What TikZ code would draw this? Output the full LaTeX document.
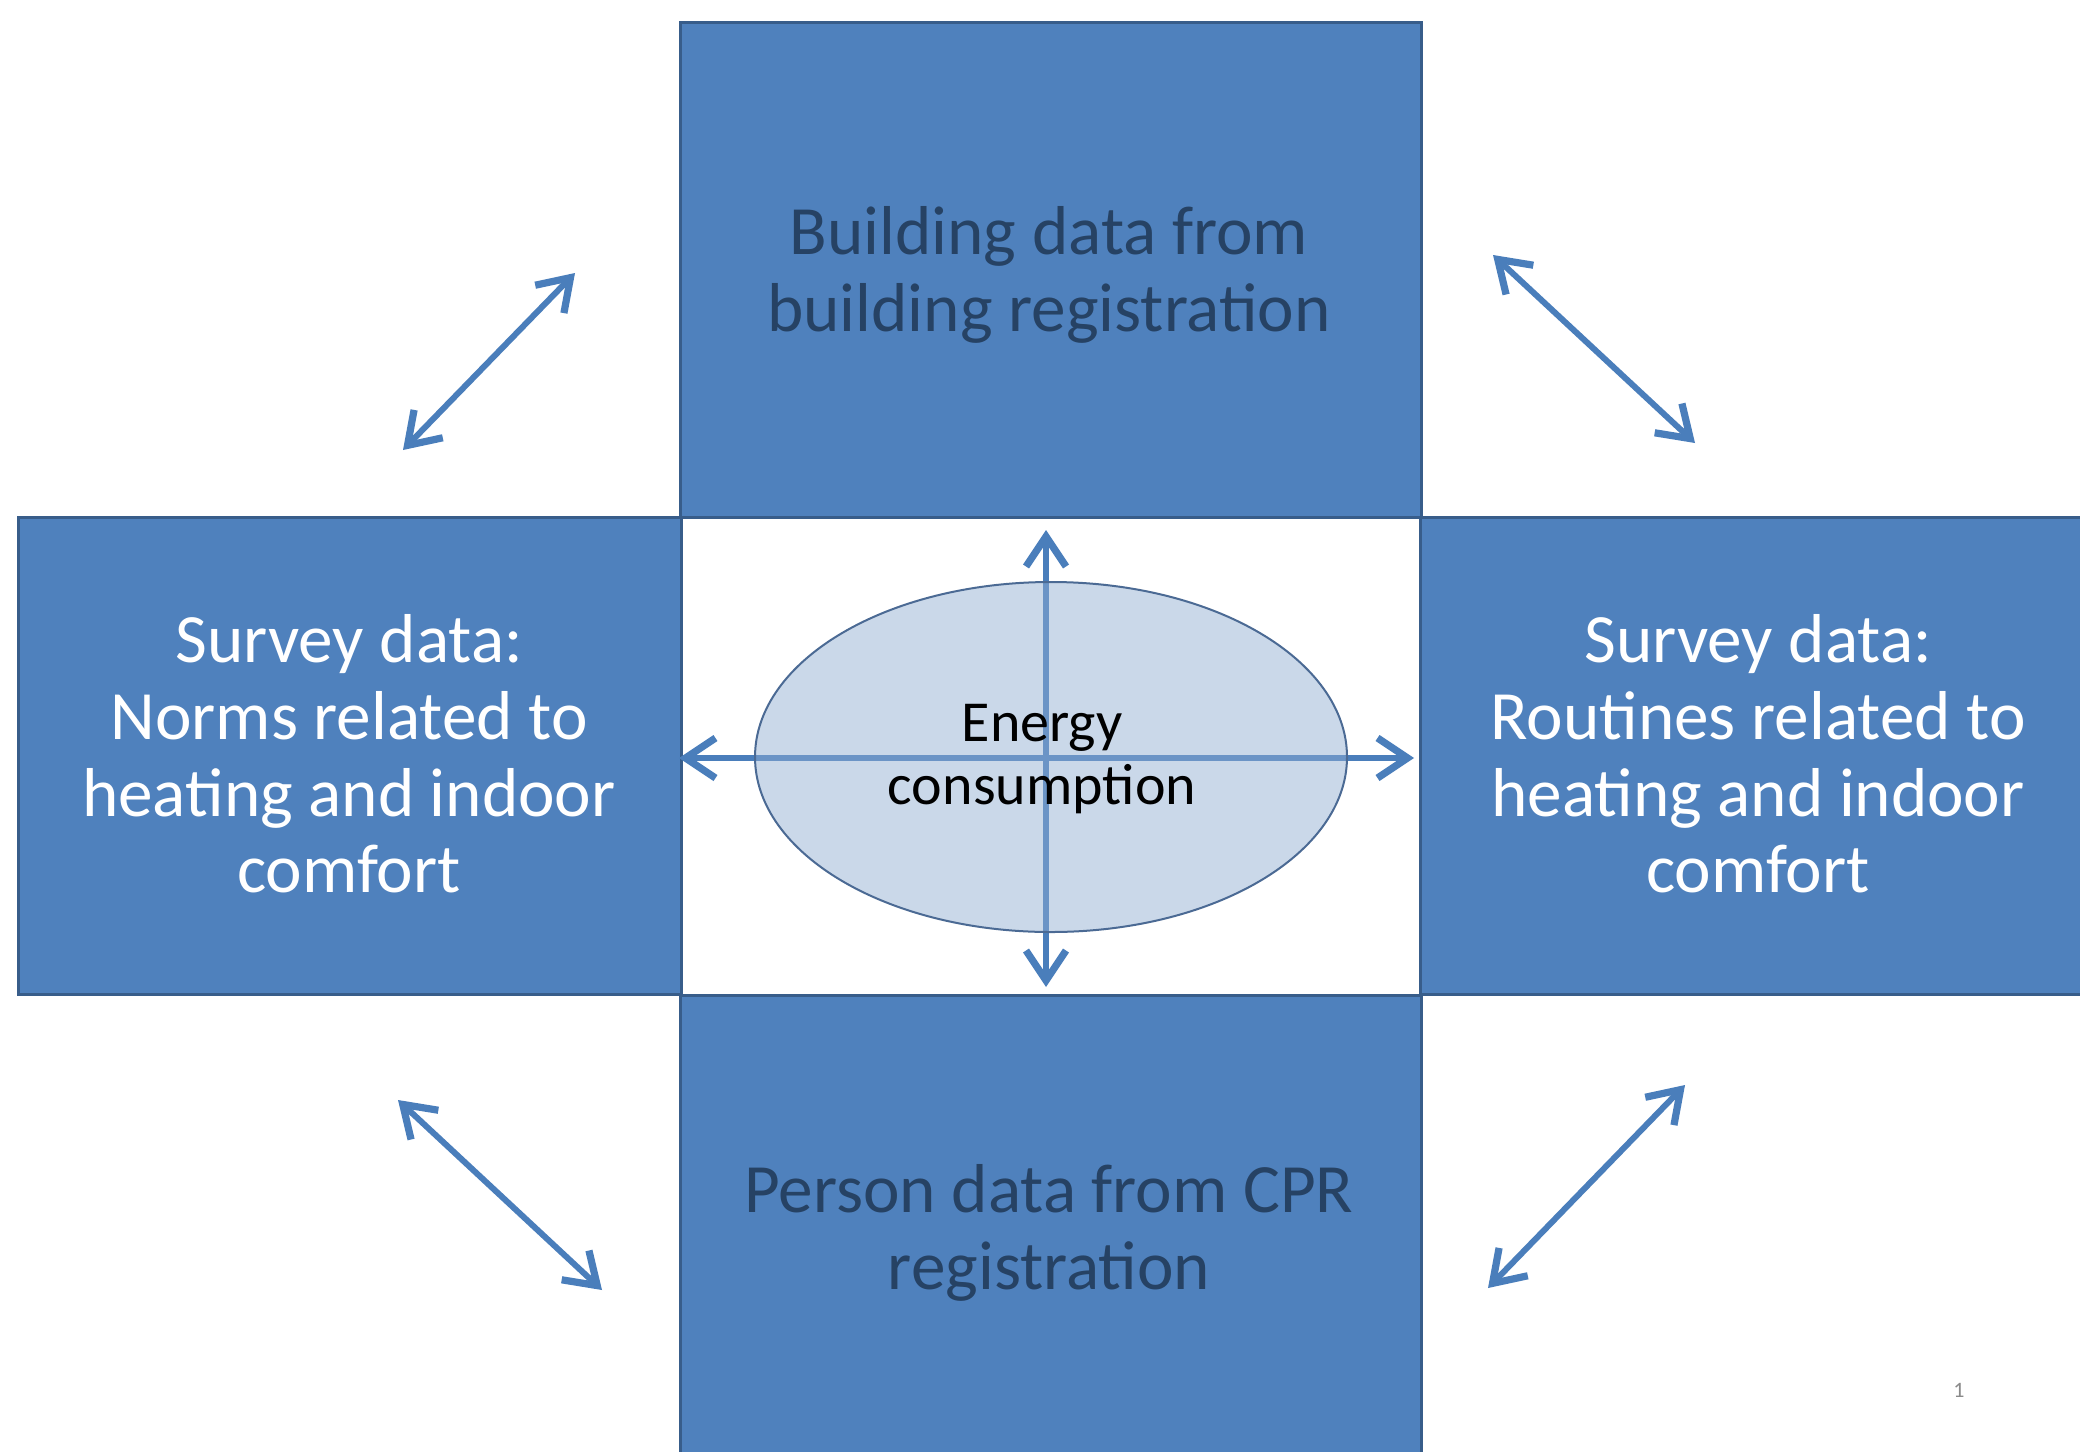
\documentclass[tikz,border=0pt]{standalone}
\usepackage{fontspec}
\setmainfont{Carlito}
\usetikzlibrary{arrows.meta,shapes.geometric}
\definecolor{boxfill}{HTML}{4F81BD}
\definecolor{boxline}{HTML}{385D8A}
\definecolor{darktext}{HTML}{264264}
\definecolor{arrowblue}{HTML}{4A7EBB}
\definecolor{ellfill}{HTML}{91AED3}
\definecolor{ellline}{HTML}{4B6A94}
\definecolor{pagegray}{HTML}{8A8A8A}
\tikzset{
  databox/.style={rectangle, draw=boxline, fill=boxfill, line width=1.5pt,
    inner sep=0pt, outer sep=0pt},
  boxtext/.style={inner sep=0pt, align=center,
    font=\fontsize{34.6}{38.4}\selectfont},
  linkarrow/.style={draw=arrowblue, line width=3pt,
    {Straight Barb[length=15pt,width=20pt,line width=3.6pt]}-{Straight Barb[length=15pt,width=20pt,line width=3.6pt]}},
  centerell/.style={ellipse, draw=ellline, line width=1pt, fill=ellfill,
    fill opacity=0.48, inner sep=0pt, outer sep=0pt,
    minimum width=296pt, minimum height=175pt},
  centertext/.style={inner sep=0pt, align=center, text=black,
    font=\fontsize{29}{31.5}\selectfont}
}
\begin{document}
\begin{tikzpicture}[x=0.5pt,y=-0.5pt]
\useasboundingbox (0,0) rectangle (2080,1451);
\clip (0,0) rectangle (2080,1451);
\fill[white] (0,0) rectangle (2080,1451);

% boxes
\node[databox, minimum width=370.5pt, minimum height=247.5pt] (building) at (1050.5,269.5) {};
\node[databox, minimum width=331.5pt, minimum height=238.5pt] (norms) at (349.5,755.5) {};
\node[databox, minimum width=338.5pt, minimum height=238.5pt] (routines) at (1758.5,755.5) {};
\node[databox, minimum width=370.5pt, minimum height=231pt] (person) at (1050.5,1226) {};

% box texts
\node[boxtext, text=darktext] (buildingtext) at (1049,275)
  {Building data from\\building registration};
\node[boxtext, text=white] (normstext) at (349,754)
  {Survey data:\\Norms related to\\heating and indoor\\comfort};
\node[boxtext, text=white] (routinestext) at (1758,754)
  {Survey data:\\Routines related to\\heating and indoor\\comfort};
\node[boxtext, text=darktext] (persontext) at (1049,1233)
  {Person data from CPR\\registration};

% cross arrows
\coordinate (cN) at (1046,530);
\coordinate (cS) at (1046,987);
\coordinate (cW) at (679,758);
\coordinate (cE) at (1414,758);
\draw[linkarrow] (cW) -- (cE);
\draw[linkarrow] (cN) -- (cS);

% central ellipse
\node[centerell] (energy) at (1051,757) {};
\node[centertext] (energytext) at (1042,759) {Energy\\consumption};

% diagonal arrows
\coordinate (tlA) at (403,450);
\coordinate (tlB) at (575,273);
\coordinate (trA) at (1493,255);
\coordinate (trB) at (1695,443);
\coordinate (blA) at (398,1100);
\coordinate (blB) at (602,1290);
\coordinate (brA) at (1685,1085);
\coordinate (brB) at (1488,1288);
\draw[linkarrow] (tlA) -- (tlB);
\draw[linkarrow] (trA) -- (trB);
\draw[linkarrow] (blA) -- (blB);
\draw[linkarrow] (brA) -- (brB);

% page number
\node[text=pagegray, font=\fontsize{11}{13}\selectfont, inner sep=0pt, anchor=base]
  (pagenum) at (1959,1397) {1};
\end{tikzpicture}
\end{document}
